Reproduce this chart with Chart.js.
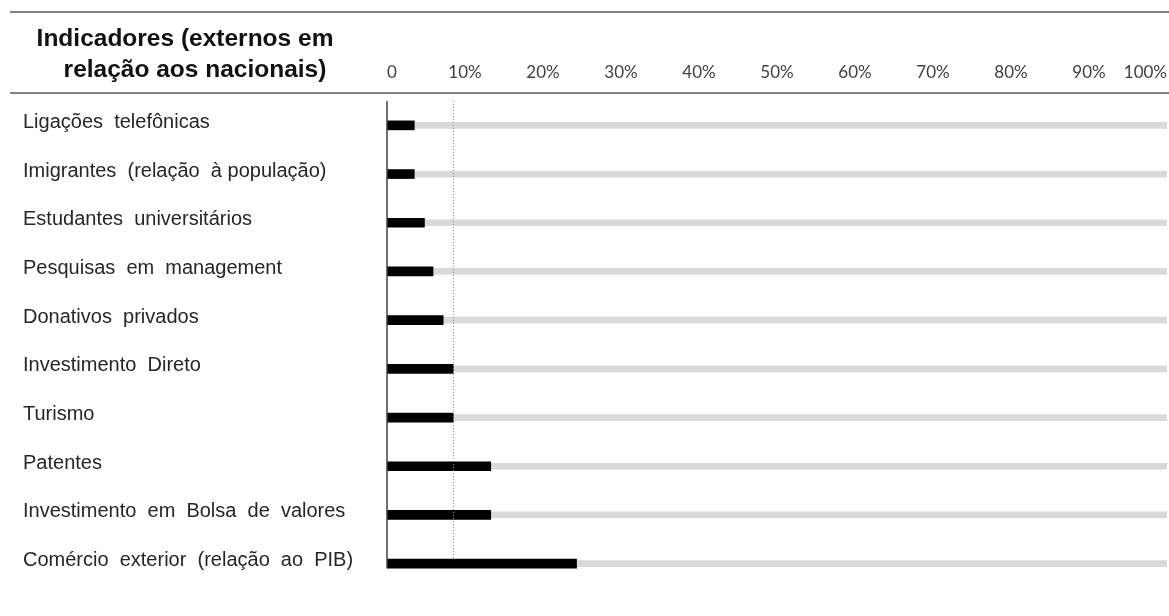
<!DOCTYPE html>
<html>
<head>
<meta charset="utf-8">
<script src="https://cdn.jsdelivr.net/npm/chart.js@4"></script>
<style>
  html, body { margin: 0; padding: 0; background: #fff; }
  #wrap { width: 1169px; height: 616px; }
</style>
</head>
<body>
<div id="wrap"><canvas id="barChart" width="1169" height="616"></canvas></div>
<script>
// data
const categories = [
  "Ligações  telefônicas",
  "Imigrantes  (relação  à população)",
  "Estudantes  universitários",
  "Pesquisas  em  management",
  "Donativos  privados",
  "Investimento  Direto",
  "Turismo",
  "Patentes",
  "Investimento  em  Bolsa  de  valores",
  "Comércio  exterior  (relação  ao  PIB)",
];
const shareValues = [3.5, 3.5, 4.8, 5.9, 7.2, 8.5, 8.5, 13.3, 13.3, 24.3];
const trackValues = [100, 100, 100, 100, 100, 100, 100, 100, 100, 100];
const referenceValue = 8.4;
const tickLabels = ["0", "10%", "20%", "30%", "40%", "50%", "60%", "70%", "80%", "90%", "100%"];
const headerLines = ["Indicadores (externos em", "relação aos nacionais)"];

Chart.defaults.font.family = "'Liberation Sans', Arial, sans-serif";

// header rules, title, axis line and dotted reference line
const decorations = {
  id: "decorations",
  afterDatasetsDraw(chart) {
    const ctx = chart.ctx;
    const x = chart.scales.x;
    const area = chart.chartArea;
    const bars = chart.getDatasetMeta(0).data;
    const lastBar = bars[bars.length - 1];

    ctx.save();
    // rules
    ctx.strokeStyle = "#595959";
    ctx.lineWidth = 1.5;
    ctx.beginPath();
    ctx.moveTo(10, 12); ctx.lineTo(chart.width, 12);
    ctx.moveTo(10, 93); ctx.lineTo(chart.width, 93);
    ctx.stroke();

    // title
    ctx.fillStyle = "#111";
    ctx.font = "bold 24.5px 'Liberation Sans', Arial, sans-serif";
    ctx.textAlign = "center";
    ctx.textBaseline = "alphabetic";
    ctx.fillText(headerLines[0], 185, 46);
    ctx.fillText(headerLines[1], 195, 77);

    // dotted reference
    const rx = Math.round(x.getPixelForValue(referenceValue)) + 0.5;
    ctx.strokeStyle = "#8c8c8c";
    ctx.lineWidth = 1;
    ctx.setLineDash([1, 2]);
    ctx.beginPath();
    ctx.moveTo(rx, area.top);
    ctx.lineTo(rx, lastBar.y - lastBar.height / 2);
    ctx.stroke();

    // value axis line
    ctx.setLineDash([]);
    ctx.strokeStyle = "#404040";
    ctx.lineWidth = 1.5;
    const zx = x.getPixelForValue(0);
    ctx.beginPath();
    ctx.moveTo(zx, area.top);
    ctx.lineTo(zx, lastBar.y + lastBar.height / 2);
    ctx.stroke();
    ctx.restore();
  },
};

var ctx = document.getElementById("barChart").getContext("2d");
var barChart = new Chart(ctx, {
  type: "bar",
  data: {
    labels: categories,
    datasets: [
      {
        label: "Externos",
        data: shareValues,
        backgroundColor: "#000000",
        barThickness: 9,
        grouped: false,
        order: 0,
      },
      {
        label: "Total",
        data: trackValues,
        backgroundColor: "#d9d9d9",
        barThickness: 6,
        grouped: false,
        order: 1,
      },
    ],
  },
  plugins: [decorations],
  options: {
    indexAxis: "y",
    responsive: false,
    animation: false,
    layout: { padding: { left: 23, right: 2, top: 0, bottom: 28 } },
    plugins: {
      legend: { display: false },
      tooltip: { enabled: false },
    },
    scales: {
      x: {
        position: "top",
        min: 0,
        max: 100,
        grid: { display: false, drawTicks: false },
        border: { display: false },
        afterFit: (scale) => {
          scale.height = 101;
          scale.paddingLeft = 0;
          scale.paddingRight = 0;
        },
        ticks: {
          stepSize: 10,
          align: "inner",
          maxRotation: 0,
          padding: 18,
          color: "#404040",
          font: { family: "Lato, 'Open Sans', sans-serif", size: 17 },
          callback: (value, index) => tickLabels[index],
        },
      },
      y: {
        grid: { display: false, drawTicks: false },
        border: { display: false },
        afterFit: (scale) => { scale.width = 364; },
        ticks: {
          crossAlign: "far",
          padding: 0,
          labelOffset: -3,
          color: "#262626",
          font: { size: 20 },
        },
      },
    },
  },
});
</script>
</body>
</html>
